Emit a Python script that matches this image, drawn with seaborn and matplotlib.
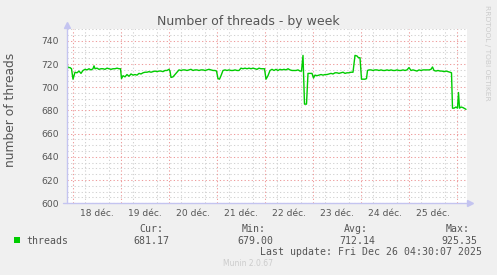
import matplotlib
matplotlib.use("Agg")
import matplotlib.pyplot as plt
import seaborn as sns
from matplotlib.ticker import FixedLocator
from matplotlib.lines import Line2D
from matplotlib.patches import Rectangle

# ---------------- data ----------------
# hours since 18 Dec 00:00
hours = [-3, -2.5, -1.5, -0.75, 0, 1, 2, 3, 4, 5, 6, 7, 8, 9, 10, 10.5, 11,
         12, 13, 14, 15, 16, 17, 18, 19, 20, 21, 22, 23, 23.75, 24.25,
         25, 26, 27, 28, 29, 30, 31, 32, 33, 34, 35, 36, 37, 38, 39, 40, 41, 42,
         43, 44, 45, 46, 47, 48, 48.5, 49,
         50, 51, 52, 53, 54, 55, 56, 57, 58, 59, 60, 61, 62, 63, 64, 65, 66, 67,
         68, 69, 70, 71, 71.75, 72.5, 73.25, 74,
         75, 76, 77, 78, 79, 80, 81, 82, 83, 84, 85, 86, 87, 88, 89, 90, 91, 92,
         93, 94, 95, 95.75, 96.5, 97.5,
         98.5, 99.5, 100.5, 101.5, 102.5, 103.5, 104.5, 105.5, 106.5, 107.5,
         108.5, 109.5, 110.5, 111.5, 112.5, 113.5,
         114.25, 115, 115.75, 116.75, 117.5, 118.5, 119.5, 120.25,
         121, 122, 123, 124, 125, 126, 127, 128, 129, 130, 131, 132, 133, 134,
         135, 136, 137, 138, 139, 140,
         141, 142, 142.75, 143.5, 144.25, 145, 146, 146.75, 147.25,
         148, 149, 150, 151, 152, 153, 154, 155, 156, 157, 158, 159, 160, 161,
         162, 163, 164, 165, 166, 167, 168, 169, 170, 171, 172, 173, 174, 175,
         176, 177, 178, 179, 179.75,
         180.5, 181.5, 182.5, 183.5, 184.5, 185.5, 186.5, 187.5, 188.5,
         189.25, 189.75, 190.5, 191.5, 192.25, 192.75, 193.25, 194, 195, 196, 196.5]

threads = [720, 717, 717, 716, 707, 713, 712.5, 714, 712, 714.5, 715.5, 715, 716, 715, 716, 718.5, 716,
           716.5, 715.5, 716, 716, 715.5, 716.5, 716, 715.5, 716, 716, 716.5, 716, 716, 707.5,
           710, 709, 711, 709.5, 711.5, 710.5, 711, 710.5, 712, 711.5, 712.5, 713, 713, 713.5, 713, 713.5, 714, 713.5,
           714, 714, 713.5, 714.5, 714.5, 715.5, 714, 708.5,
           709, 711, 713, 715, 714.5, 715, 715, 714.5, 715, 715.5, 714.5, 715, 715, 714.5, 715, 715, 714.5, 715,
           715.5, 715, 714.5, 714.5, 714, 707.5, 707, 710,
           714.5, 715, 714.5, 715, 714.5, 714.5, 715, 714.5, 714.5, 716.5, 716, 716.5, 716, 716.5, 716, 716.5, 716, 715.5,
           716.5, 716, 716, 716, 707, 710,
           714.5, 715.5, 714.5, 715.5, 714.5, 715.5, 715, 715.5, 715, 716,
           715, 714.5, 714.5, 714.5, 715, 714,
           714, 727.5, 685.5, 685.5, 712, 712, 712, 708,
           710.5, 710, 710.5, 711, 710.5, 711, 711, 711.5, 712, 711.5, 712.5, 712.5, 712, 712.5,
           713, 712, 712.5, 712.5, 713, 713,
           727.5, 727, 725.5, 725.5, 707, 707, 707, 707.5, 714.5,
           715, 715, 714.5, 715, 715, 714.5, 715, 714.5, 714.5, 715, 714.5, 715, 714.5, 714.5,
           715, 714.5, 714.5, 715, 714.5, 715, 717, 714.5, 715, 714.5, 714, 715, 714.5, 715,
           715, 715, 715, 715.5, 717.5,
           714.5, 714, 714.5, 714, 714, 713.5, 714, 713.5, 713,
           712.5, 682, 682, 683, 682, 695.5, 682, 683, 682.5, 681.5, 681]

tick_hours = [12, 36, 60, 84, 108, 132, 156, 180]
day_labels = ["18 déc.", "19 déc.", "20 déc.", "21 déc.", "22 déc.", "23 déc.", "24 déc.", "25 déc."]
midnight_hours = [0, 24, 48, 72, 96, 120, 144, 168, 192]
y_ticks = [600, 620, 640, 660, 680, 700, 720, 740]

series_name = "threads"
stat_labels = ["Cur:", "Min:", "Avg:", "Max:"]
stat_values = ["681.17", "679.00", "712.14", "925.35"]
last_update = "Last update: Fri Dec 26 04:30:07 2025"

# ---------------- style ----------------
sns.set_style("white")
plt.rcParams['font.family'] = ['DejaVu Sans']

W, H = 497, 275
fig = plt.figure(figsize=(W / 100, H / 100), dpi=100, facecolor='#F0F0F0')


def fx(x):
    return x / W


def fy(y):
    return 1 - y / H


ax = fig.add_axes([fx(67), fy(203.3), 400 / W, 174 / H])
ax.set_facecolor('white')
for s in ax.spines.values():
    s.set_visible(False)

ax.set_xlim(-3, 197)
ax.set_ylim(600, 750)

minor_x = [h for h in range(-0, 197, 6) if h % 24 != 0]
minor_y = [v for v in range(605, 751, 5) if v % 20 != 0]

ax.xaxis.set_major_locator(FixedLocator(tick_hours))
ax.set_xticklabels(day_labels)
ax.xaxis.set_minor_locator(FixedLocator(minor_x))
ax.yaxis.set_major_locator(FixedLocator(y_ticks))
ax.yaxis.set_minor_locator(FixedLocator(minor_y))

red = '#EE9C9C'
gray = '#D2D2D2'
dots = (0, (1.2, 2.2))
ax.grid(which='minor', color=gray, linestyle=dots, linewidth=0.75)
ax.xaxis.grid(False, which='major')
ax.yaxis.grid(True, which='major', color=red, linestyle=dots, linewidth=0.75)
for h in midnight_hours:
    ax.axvline(h, color=red, linestyle=dots, linewidth=0.75, zorder=1.5)

ax.tick_params(axis='x', which='major', length=0, pad=4.2, labelsize=6.6, labelcolor='#555555')
ax.tick_params(axis='x', which='minor', length=0)
ax.tick_params(axis='y', which='major', length=2, width=0.7, color=red, pad=3.8,
               labelsize=6.6, labelcolor='#555555', direction='out')
ax.tick_params(axis='y', which='minor', length=2, width=0.7, color=gray, direction='out')

sns.lineplot(x=hours, y=threads, ax=ax, color='#00CC00', linewidth=1.0,
             estimator=None, legend=False, zorder=3)
ax.set_xlabel('')
ax.set_ylabel('')

# axis lines with arrows
axis_col = '#C4C4F0'
fig.add_artist(Line2D([fx(67), fx(67)], [fy(203.3), fy(25)], color=axis_col, lw=1))
fig.add_artist(Line2D([fx(67)], [fy(24.5)], marker='^', markersize=4, color=axis_col, lw=0))
fig.add_artist(Line2D([fx(63), fx(469)], [fy(203.3), fy(203.3)], color=axis_col, lw=1))
fig.add_artist(Line2D([fx(470)], [fy(203.3)], marker='>', markersize=4, color=axis_col, lw=0))

# texts
fig.text(fx(248), fy(24.5), "Number of threads - by week", ha='center', va='baseline',
         fontsize=9, color='#555555')
fig.text(fx(11), fy(109.5), "number of threads", rotation=90, ha='center', va='center',
         fontsize=8.8, color='#555555')
fig.text(fx(487.5), fy(53), "RRDTOOL / TOBI OETIKER", rotation=270, ha='center', va='center',
         fontsize=5.4, color='#CCCCCC')

mono = 'DejaVu Sans Mono'
fig.add_artist(Rectangle((fx(14), fy(243.3)), 6 / W, 6 / H, transform=fig.transFigure,
                         facecolor='#00CC00', edgecolor='none'))
fig.text(fx(26.7), fy(243.5), series_name, family=mono, fontsize=7.1, va='baseline',
         color='#555555')
label_right = [163, 266, 368, 470]
value_right = [169, 273, 375, 477]
for lab, val, lr, vr in zip(stat_labels, stat_values, label_right, value_right):
    fig.text(fx(lr), fy(232), lab, family=mono, fontsize=7.1, ha='right', va='baseline',
             color='#555555')
    fig.text(fx(vr), fy(243.5), val, family=mono, fontsize=7.1, ha='right', va='baseline',
             color='#555555')
fig.text(fx(482), fy(255), last_update, family=mono, fontsize=7.1, ha='right', va='baseline',
         color='#555555')
fig.text(fx(248), fy(266.5), "Munin 2.0.67", ha='center', va='baseline', fontsize=5.5,
         color='#CCCCCC')

fig.savefig("out.png", dpi=100, facecolor=fig.get_facecolor())
